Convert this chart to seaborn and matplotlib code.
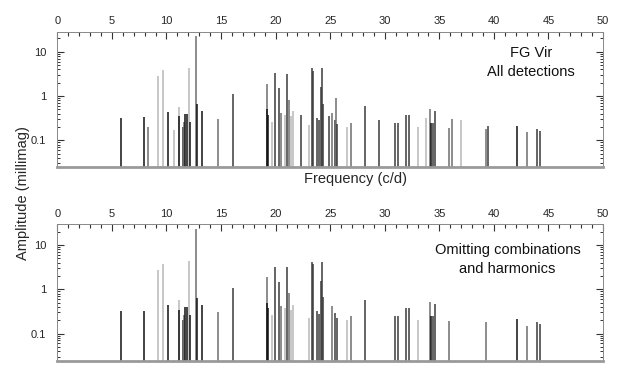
import numpy as np
import pandas as pd
import seaborn as sns
from matplotlib import pyplot as plt
from matplotlib.ticker import LogLocator, FixedLocator, NullFormatter, FuncFormatter

# Detected frequencies (c/d) and amplitudes (millimag)
freqs = [5.80, 7.97, 8.33, 9.19, 9.65, 10.17, 10.66, 11.12, 11.17, 11.54,
         11.60, 11.72, 11.90, 12.09, 12.18, 12.70, 12.76, 13.22, 14.75, 16.09,
         19.17, 19.20, 19.27, 19.63, 19.90, 20.30, 20.50, 20.85, 21.03, 21.21,
         21.40, 21.58, 22.35, 23.02, 23.35, 23.45, 23.75, 23.96, 24.18, 24.24,
         24.36, 24.85, 25.18, 25.40, 25.50, 25.65, 26.50, 26.93, 28.15, 29.46,
         30.92, 31.17, 31.93, 32.20, 33.03, 33.76, 34.16, 34.22, 34.38, 34.56,
         35.93, 36.12, 36.97, 39.29, 39.50, 42.13, 43.04, 43.96, 44.23]
amps = [0.32, 0.33, 0.20, 2.8, 3.8, 0.44, 0.17, 0.57, 0.35, 0.20,
        0.26, 0.39, 0.39, 4.3, 0.26, 23.0, 0.65, 0.45, 0.31, 1.1,
        1.87, 0.50, 0.37, 0.26, 3.25, 1.5, 0.41, 0.37, 3.2, 0.81,
        0.35, 0.45, 0.37, 0.22, 4.2, 3.7, 0.32, 0.28, 1.57, 4.2,
        0.67, 0.36, 0.41, 0.29, 0.89, 0.23, 0.20, 0.25, 0.59, 0.28,
        0.25, 0.25, 0.38, 0.38, 0.20, 0.32, 0.52, 0.25, 0.25, 0.47,
        0.19, 0.30, 0.29, 0.18, 0.21, 0.21, 0.15, 0.18, 0.165]
# grey level class of each line as printed: k=black, d=dark, m=mid, l=light
tone = ['k', 'k', 'm', 'l', 'l', 'k', 'l', 'l', 'k', 'd',
        'm', 'k', 'k', 'l', 'k', 'm', 'k', 'k', 'm', 'd',
        'm', 'k', 'k', 'l', 'd', 'd', 'm', 'l', 'd', 'm',
        'l', 'l', 'd', 'l', 'd', 'd', 'd', 'd', 'd', 'd',
        'd', 'd', 'm', 'd', 'm', 'd', 'l', 'm', 'd', 'd',
        'd', 'd', 'd', 'd', 'l', 'l', 'm', 'k', 'd', 'd',
        'm', 'm', 'l', 'm', 'd', 'k', 'm', 'd', 'd']
# frequencies that are combinations / harmonics (dropped in lower panel)
omitted = [8.33, 10.66, 22.35, 24.85, 25.50, 29.46, 33.76, 36.12, 36.97, 39.50]

panel_titles = ["FG Vir\nAll detections", "Omitting combinations\nand harmonics"]

tone_colors = {'k': '#111111', 'd': '#3a3a3a', 'm': '#6e6e6e', 'l': '#b8b8b8'}

df = pd.DataFrame({'freq': freqs, 'amp': amps, 'tone': tone})
df['color'] = df['tone'].map(tone_colors)

sns.set_style('white')
plt.rcParams['font.family'] = ['Liberation Sans', 'DejaVu Sans']

fig = plt.figure(figsize=(6.23, 3.71), dpi=100)
ax_top = fig.add_axes([0.092, 0.550, 0.876, 0.364])
ax_bot = fig.add_axes([0.092, 0.027, 0.876, 0.369])

panels = [(ax_top, df, (0.025, 28), (0.868, 0.775)),
          (ax_bot, df[~df['freq'].isin(omitted)], (0.024, 30), (0.825, 0.74))]

for (ax, data, ylim, txt_pos), title in zip(panels, panel_titles):
    ax.set_yscale('log')
    ax.set_ylim(*ylim)
    ax.set_xlim(0, 50)
    ax.vlines(data['freq'], ylim[0], data['amp'], colors=data['color'], lw=1.1)

    for side in ['top', 'left', 'right']:
        ax.spines[side].set_color('#888888')
        ax.spines[side].set_linewidth(0.7)
    ax.spines['bottom'].set_color('#9a9a9a')
    ax.spines['bottom'].set_linewidth(2.0)

    ax.xaxis.set_ticks_position('top')
    ax.xaxis.set_label_position('bottom')
    ax.set_xticks(np.arange(0, 51, 5))
    ax.xaxis.set_minor_locator(FixedLocator(np.arange(0, 51, 1)))
    ax.tick_params(axis='x', which='major', direction='in', length=5, width=0.8,
                   color='#333333', labelsize=8, pad=4, top=True, bottom=False)
    ax.tick_params(axis='x', which='minor', direction='in', length=3, width=0.8,
                   color='#333333', top=True, bottom=False)

    ax.yaxis.set_major_locator(FixedLocator([0.1, 1, 10]))
    ax.yaxis.set_major_formatter(FuncFormatter(lambda v, p: f"{v:g}"))
    ax.yaxis.set_minor_locator(LogLocator(base=10, subs=np.arange(2, 10)))
    ax.yaxis.set_minor_formatter(NullFormatter())
    ax.tick_params(axis='y', which='major', direction='in', length=5, width=0.8,
                   color='#333333', labelsize=8, left=True, right=True, pad=8)
    ax.tick_params(axis='y', which='minor', direction='in', length=2.5, width=0.7,
                   color='#333333', left=True, right=True)

    ax.text(txt_pos[0], txt_pos[1], title, transform=ax.transAxes, ha='center',
            va='center', fontsize=10.5, linespacing=1.45, color='#111111')

ax_top.set_xlabel('Frequency (c/d)', fontsize=10.5, labelpad=6)
ax_top.xaxis.set_label_coords(0.547, -0.09)
ax_top.xaxis.label.set_va('center')
fig.text(0.037, 0.48, 'Amplitude (millimag)', rotation=90, ha='center', va='center',
         fontsize=10.5)

fig.savefig('out.png', dpi=100)
